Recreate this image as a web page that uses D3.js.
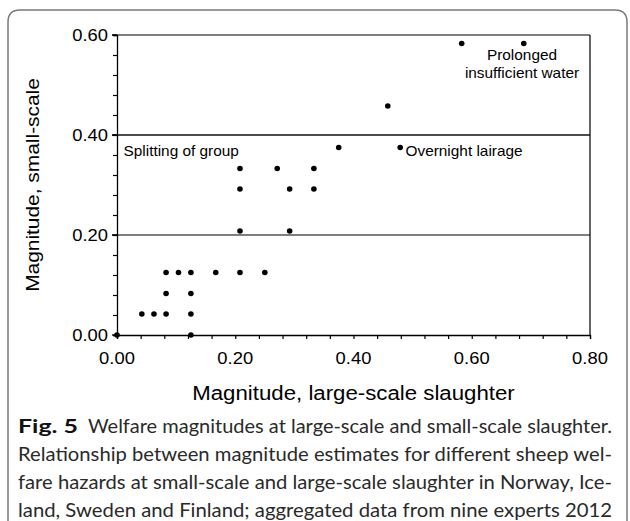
<!DOCTYPE html>
<html>
<head>
<meta charset="utf-8">
<script src="https://cdn.jsdelivr.net/npm/d3@7"></script>
<style>
  html, body { margin: 0; padding: 0; background: #fff; }
  svg { display: block; }
</style>
</head>
<body>
<svg id="chart" width="630" height="521"></svg>
<script>
// ---- data ----
const xValues = [0, 0.125, 0.042, 0.0625, 0.083, 0.125, 0.083, 0.125,
  0.083, 0.104, 0.125, 0.167, 0.208, 0.25,
  0.208, 0.292, 0.208, 0.292, 0.333, 0.208, 0.271, 0.333,
  0.375, 0.479, 0.458, 0.583, 0.688];
const yValues = [0, 0, 0.042, 0.042, 0.042, 0.042, 0.083, 0.083,
  0.125, 0.125, 0.125, 0.125, 0.125, 0.125,
  0.208, 0.208, 0.292, 0.292, 0.292, 0.333, 0.333, 0.333,
  0.375, 0.375, 0.458, 0.583, 0.583];
const xTicks = [0, 0.2, 0.4, 0.6, 0.8];
const yTicks = [0, 0.2, 0.4, 0.6];
const minorStep = 0.04;
const gridValues = [0.2, 0.4];
const annotations = [
  { lines: ["Splitting of group"], x: 0.011, y: 0.358, anchor: "start" },
  { lines: ["Overnight lairage"], x: 0.488, y: 0.358, anchor: "start" },
  { lines: ["Prolonged", "insufficient water"], x: 0.685, y: 0.55, anchor: "middle" }
];
const xTitle = "Magnitude, large-scale slaughter";
const yTitle = "Magnitude, small-scale";
const captionBold = "Fig. 5";
const captionLines = [
  "Welfare magnitudes at large-scale and small-scale slaughter.",
  "Relationship between magnitude estimates for different sheep wel-",
  "fare hazards at small-scale and large-scale slaughter in Norway, Ice-",
  "land, Sweden and Finland; aggregated data from nine experts 2012"
];

// ---- layout ----
const svg = d3.select("#chart");
const L = 117, R = 590, T = 35, B = 335;
const x = d3.scaleLinear().domain([0, 0.8]).range([L, R]);
const y = d3.scaleLinear().domain([0, 0.6]).range([B, T]);
const chartFont = "'Liberation Sans', Arial, sans-serif";

function stretch(sel, k) {
  sel.each(function () {
    const len = this.getComputedTextLength();
    d3.select(this).attr("textLength", len * k).attr("lengthAdjust", "spacingAndGlyphs");
  });
}

// frame around figure
svg.append("path")
  .attr("d", "M8,530 L8,22 Q8,10 20,10 L615,10 Q627,10 627,22 L627,530")
  .attr("fill", "none").attr("stroke", "#7a7a7a").attr("stroke-width", 1.5);

// gridlines
svg.append("g").selectAll("line").data(gridValues).join("line")
  .attr("x1", x(0) - 5).attr("x2", x(0.8))
  .attr("y1", d => y(d)).attr("y2", d => y(d))
  .attr("stroke", (d, i) => i === 0 ? "#555" : "#111")
  .attr("stroke-width", 1.4);

// top and right frame lines
svg.append("line").attr("x1", x(0) - 5).attr("x2", x(0.8)).attr("y1", y(0.6)).attr("y2", y(0.6))
  .attr("stroke", "#555").attr("stroke-width", 1.6);
svg.append("line").attr("x1", x(0.8)).attr("x2", x(0.8)).attr("y1", y(0.6)).attr("y2", y(0))
  .attr("stroke", "#111").attr("stroke-width", 1.3);

// minor ticks
const xMinor = d3.range(0, 0.8 + 1e-9, minorStep);
const yMinor = d3.range(0, 0.6 + 1e-9, minorStep);

const xAxis = d3.axisBottom(x).tickValues(xMinor).tickSize(4).tickFormat("");
const gx = svg.append("g").attr("transform", `translate(0,${B})`).call(xAxis);
const yAxis = d3.axisLeft(y).tickValues(yMinor).tickSize(4).tickFormat("");
const gy = svg.append("g").attr("transform", `translate(${L},0)`).call(yAxis);
[gx, gy].forEach(g => {
  g.select(".domain").attr("stroke", "#000").attr("stroke-width", 1.3);
  g.selectAll(".tick line").attr("stroke", "#000").attr("stroke-width", 1.2);
});
// major ticks on y slightly longer
svg.append("g").selectAll("line").data(yTicks).join("line")
  .attr("x1", L - 5).attr("x2", L).attr("y1", d => y(d)).attr("y2", d => y(d))
  .attr("stroke", "#000").attr("stroke-width", 1.3);

// tick labels
svg.append("g").selectAll("text").data(xTicks).join("text")
  .attr("x", d => x(d)).attr("y", 364)
  .attr("text-anchor", "middle").attr("font-family", chartFont).attr("font-size", 17)
  .attr("fill", "#000").text(d => d3.format(".2f")(d))
  .call(stretch, 1.08);
svg.append("g").selectAll("text").data(yTicks).join("text")
  .attr("x", 108).attr("y", d => y(d) + 6)
  .attr("text-anchor", "end").attr("font-family", chartFont).attr("font-size", 17)
  .attr("fill", "#000").text(d => d3.format(".2f")(d))
  .call(stretch, 1.08);

// axis titles
svg.append("text").attr("x", (L + R) / 2).attr("y", 400)
  .attr("text-anchor", "middle").attr("font-family", chartFont).attr("font-size", 19.5)
  .attr("fill", "#000").text(xTitle).call(stretch, 1.14);
svg.append("text").attr("transform", `translate(39,${(T + B) / 2}) rotate(-90)`)
  .attr("text-anchor", "middle").attr("font-family", chartFont).attr("font-size", 19)
  .attr("fill", "#000").text(yTitle).call(stretch, 1.1);

// points
const pts = xValues.map((v, i) => ({ x: v, y: yValues[i] }));
svg.append("g").selectAll("circle").data(pts).join("circle")
  .attr("cx", d => x(d.x)).attr("cy", d => y(d.y)).attr("r", 2.8).attr("fill", "#000");

// annotations
annotations.forEach(a => {
  a.lines.forEach((ln, i) => {
    svg.append("text").attr("x", x(a.x)).attr("y", y(a.y) + i * 18)
      .attr("text-anchor", a.anchor).attr("font-family", chartFont).attr("font-size", 14.5)
      .attr("fill", "#000").text(ln).call(stretch, 1.06);
  });
});

// caption
const capFont = "Lato, 'Open Sans', sans-serif";
svg.append("text").attr("x", 18).attr("y", 433)
  .attr("font-family", capFont).attr("font-weight", "bold").attr("font-size", 19)
  .attr("fill", "#111").text(captionBold)
  .attr("textLength", 60).attr("lengthAdjust", "spacingAndGlyphs");
captionLines.forEach((ln, i) => {
  const x0 = i === 0 ? 88 : 18;
  svg.append("text").attr("x", x0).attr("y", 433 + i * 28)
    .attr("font-family", capFont).attr("font-size", 19).attr("fill", "#2a2a2a")
    .text(ln)
    .attr("textLength", 612 - x0).attr("lengthAdjust", "spacingAndGlyphs");
});
</script>
</body>
</html>
